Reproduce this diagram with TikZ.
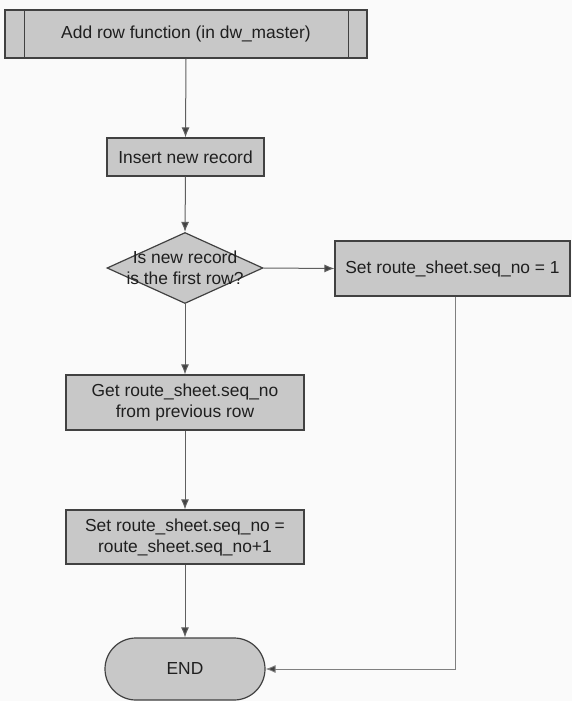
\documentclass[tikz,border=0pt]{standalone}
\usepackage{fontspec}
\setmainfont{Liberation Sans}
\usetikzlibrary{shapes.geometric,arrows.meta}
\definecolor{boxfill}{RGB}{200,200,200}
\definecolor{edge}{RGB}{65,65,65}
\definecolor{wire}{RGB}{95,95,95}
\definecolor{paper}{RGB}{250,250,250}
\begin{document}
\begin{tikzpicture}[x=1pt,y=-1pt,
  every node/.style={font=\fontsize{17.4}{21}\selectfont, text=black!88},
  procbox/.style={draw=edge, line width=1.2pt, fill=boxfill, rectangle, inner sep=0pt, align=center},
  decision/.style={draw=edge, line width=1.2pt, fill=boxfill, diamond, inner sep=0pt},
  terminal/.style={draw=edge, line width=1.2pt, fill=boxfill, rectangle, rounded corners=31pt, inner sep=0pt},
  tip/.style={-{Latex[length=10pt,width=8pt,fill=edge]}},
  flow/.style={draw=wire, line width=1pt, tip},
  flowlight/.style={draw=wire!80, line width=0.9pt, tip}]
  % page
  \fill[paper] (0,0) rectangle (572,701);
  \useasboundingbox (0,0) rectangle (572,701);

  % predefined process (sub-routine) box
  \node[procbox, minimum width=362pt, minimum height=48pt] (start) at (186,34) {Add row function (in dw\_master)};
  \draw[edge, line width=1.2pt] ([xshift=20pt]start.north west) -- ([xshift=20pt]start.south west);
  \draw[edge, line width=1.2pt] ([xshift=-19pt]start.north east) -- ([xshift=-19pt]start.south east);

  \node[procbox, minimum width=157pt, minimum height=38pt] (insert) at (185.5,157) {Insert new record};

  \node[decision, minimum width=156pt, minimum height=71pt,
        label={[align=center, font=\fontsize{17.4}{21}\selectfont, text=black!88]center:Is new record\\is the first row?}] (first) at (185,268) {};

  \node[procbox, minimum width=235pt, minimum height=55pt] (setone) at (452.5,268.5) {Set route\_sheet.seq\_no = 1};

  \node[procbox, minimum width=238pt, minimum height=55pt] (getprev) at (185,402.5) {Get route\_sheet.seq\_no\\from previous row};

  \node[procbox, minimum width=238pt, minimum height=54pt] (incr) at (185,537) {Set route\_sheet.seq\_no =\\route\_sheet.seq\_no+1};

  \node[terminal, minimum width=160pt, minimum height=62pt] (finish) at (185,669) {END};

  % connectors
  \draw[flow] (start.south) -- (insert.north);
  \draw[flow] (insert.south) -- (first.north);
  \draw[flow] (first.east) -- (setone.west);
  \draw[flow] (first.south) -- (getprev.north);
  \draw[flow] (getprev.south) -- (incr.north);
  \draw[flow] (incr.south) -- (finish.north);
  \draw[flowlight] ([xshift=2.5pt]setone.south) -- ([xshift=2.5pt]setone.south |- finish.east) -- (finish.east);
\end{tikzpicture}
\end{document}
